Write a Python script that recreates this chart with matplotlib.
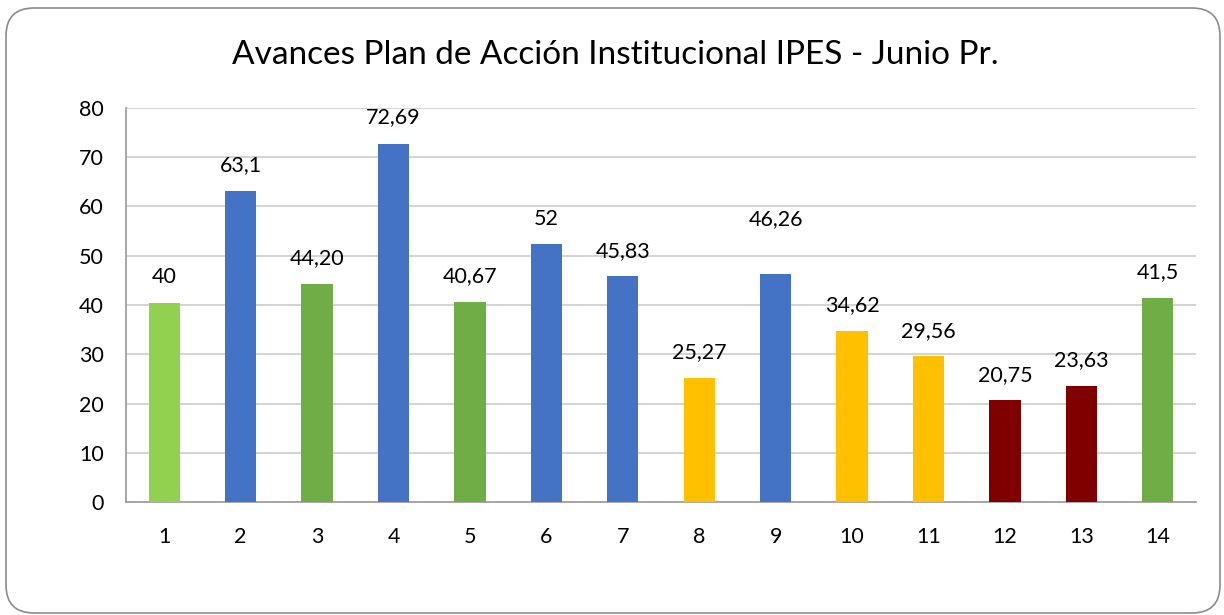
import matplotlib.pyplot as plt
from matplotlib.patches import FancyBboxPatch

plt.rcParams['font.family'] = ['Lato', 'DejaVu Sans']

# Datos del gráfico
categorias = [str(i) for i in range(1, 15)]
valores = [40.4, 63.1, 44.2, 72.69, 40.67, 52.4, 45.83, 25.27, 46.26,
           34.62, 29.56, 20.75, 23.63, 41.5]
etiquetas = ['40', '63,1', '44,20', '72,69', '40,67', '52', '45,83', '25,27',
             '46,26', '34,62', '29,56', '20,75', '23,63', '41,5']
colores = ['#92D050', '#4472C4', '#70AD47', '#4472C4', '#70AD47', '#4472C4',
           '#4472C4', '#FFC000', '#4472C4', '#FFC000', '#FFC000', '#800000',
           '#800000', '#70AD47']
# Las etiquetas fueron colocadas a mano en el original (altura en unidades del eje)
pos_etiquetas = [45.6, 68.4, 49.5, 78.1, 45.9, 57.5, 51.0, 30.5, 57.4,
                 39.9, 34.8, 25.8, 28.9, 46.6]

fig = plt.figure(figsize=(12.24, 6.15), dpi=100)

# Marco redondeado
marco = FancyBboxPatch((0.06, 0.02), 12.14, 6.05,
                       boxstyle="round,pad=0,rounding_size=0.28",
                       transform=fig.dpi_scale_trans, facecolor='none',
                       edgecolor='#8c8c8c', linewidth=1.2, zorder=-1)
fig.patches.append(marco)

ax = fig.add_axes([126 / 1224, 113 / 615, 1070 / 1224, 394 / 615])
ax.set_facecolor('none')

x = list(range(len(categorias)))
ax.bar(x, valores, width=0.41, color=colores, zorder=3)

for xi, txt, yi in zip(x, etiquetas, pos_etiquetas):
    ax.text(xi, yi, txt, ha='center', va='center', fontsize=15.5, zorder=4)

ax.set_xlim(-0.5, len(categorias) - 0.5)
ax.set_ylim(0, 80)
ax.set_yticks(range(0, 81, 10))
ax.set_xticks(x)
ax.set_xticklabels(categorias)
ax.tick_params(axis='both', length=0, labelsize=15.5)
ax.tick_params(axis='y', pad=16)
ax.tick_params(axis='x', pad=18)

ax.grid(axis='y', color='#d0d0d0', linewidth=1.3, zorder=0)
for lado in ['top', 'right']:
    ax.spines[lado].set_visible(False)
for lado in ['left', 'bottom']:
    ax.spines[lado].set_color('#a0a0a0')
    ax.spines[lado].set_linewidth(1.3)

fig.text(615 / 1224, 1 - 64 / 615, 'Avances Plan de Acción Institucional IPES - Junio Pr.',
         ha='center', va='baseline', fontsize=24)

fig.savefig('out.png', dpi=100)
plt.close(fig)
